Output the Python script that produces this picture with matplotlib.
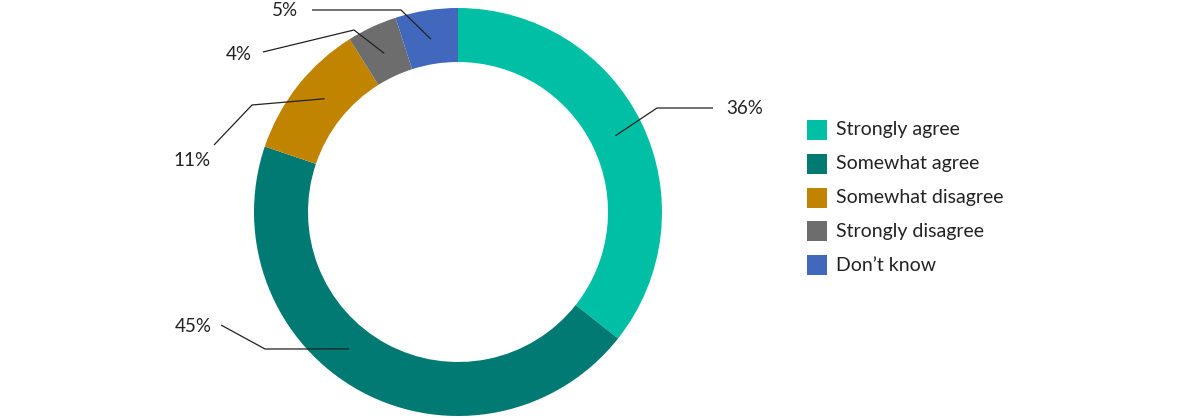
import numpy as np
import matplotlib.pyplot as plt
from matplotlib.patches import Rectangle

# Data
categories = ["Strongly agree", "Somewhat agree", "Somewhat disagree",
              "Strongly disagree", "Don\u2019t know"]
values = [36, 45, 11, 4, 5]
labels = ["36%", "45%", "11%", "4%", "5%"]
colors = ["#00BFA5", "#007A72", "#C08400", "#6D6D6D", "#4268BE"]

plt.rcParams['font.family'] = ['Lato', 'DejaVu Sans']
text_color = "#222222"

W, H = 1200, 418
fig = plt.figure(figsize=(W / 100, H / 100), dpi=100)
ax = fig.add_axes([0, 0, 1, 1])

cx, cy, R = 458, H - 212, 204
wedges, _ = ax.pie(values, colors=colors, startangle=90, counterclock=False,
                   center=(cx, cy), radius=R,
                   wedgeprops=dict(width=54, linewidth=0))
ax.set_xlim(0, W)
ax.set_ylim(0, H)
ax.set_aspect('equal')
ax.axis('off')

# leader line layout (pixel coords from top-left): angle tweak, elbow, end, label side
layout = [
    (0, (657, 108), (713, 108), 'left'),
    (-10, (265, 349), (221, 325), 'right'),
    (-2, (252, 105), (214, 145), 'right'),
    (0, (354, 30), (263, 52), 'right'),
    (0, (401, 10), (312, 10), 'right'),
]
label_pos = [(726, 108), (212, 326), (211, 160), (252, 55), (298, 11)]

r_mid = R - 29
for w, lab, (dang, elbow, end, side), (lx, ly) in zip(wedges, labels, layout, label_pos):
    ang = np.deg2rad((w.theta1 + w.theta2) / 2 + dang)
    x0 = cx + r_mid * np.cos(ang)
    y0 = cy + r_mid * np.sin(ang)
    ax.plot([x0, elbow[0], end[0]], [y0, H - elbow[1], H - end[1]],
            color=text_color, lw=0.9, solid_capstyle='butt')
    ax.text(lx, H - ly, lab, ha=side, va='center', fontsize=13.5, color=text_color)

# legend
for i, (cat, col) in enumerate(zip(categories, colors)):
    ytop = 120 + i * 33.8
    ax.add_patch(Rectangle((807, H - ytop - 20), 20, 20, color=col, lw=0))
    ax.text(836, H - ytop - 10, cat, ha='left', va='center',
            fontsize=14, color=text_color)

fig.savefig("out.png", dpi=100)
